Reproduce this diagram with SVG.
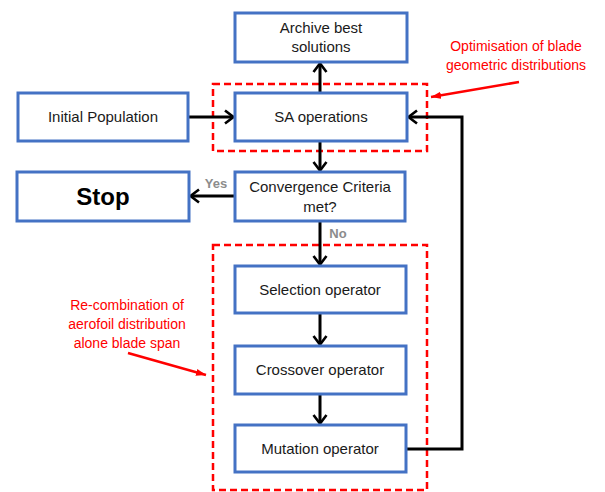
<svg xmlns="http://www.w3.org/2000/svg" width="605" height="492" viewBox="0 0 605 492">
<style>
.box{fill:#fff;stroke:#4472C4;stroke-width:3}
.t{font-family:"Liberation Sans",Arial,sans-serif;font-size:15px;fill:#1a1a1a;text-anchor:middle}
.lab{font-family:"Liberation Sans",Arial,sans-serif;font-size:13px;font-weight:bold;fill:#8c8c8c;text-anchor:middle}
.red{font-family:"Liberation Sans",Arial,sans-serif;font-size:14px;fill:#ff0000;text-anchor:middle}
.dash{fill:none;stroke:#ff0000;stroke-width:2.5;stroke-dasharray:7,4}
.c{fill:none;stroke:#000;stroke-width:3}
.ra{fill:none;stroke:#ff0000;stroke-width:2.5}
</style>
<defs>
<marker id="ah" markerWidth="14" markerHeight="16" refX="10" refY="8" orient="auto" markerUnits="userSpaceOnUse" viewBox="0 0 14 16">
<path d="M2,1.5 L10.5,8 L2,14.5" fill="none" stroke="#000" stroke-width="2.6"/>
</marker>
<marker id="rh" markerWidth="10" markerHeight="8" refX="10" refY="4" orient="auto" markerUnits="userSpaceOnUse" viewBox="0 0 10 8">
<path d="M0,0.5 L10,4 L0,7.5 Z" fill="#ff0000"/>
</marker>
</defs>
<g id="groups">
<rect class="dash" x="213" y="84" width="214" height="67"/>
<rect class="dash" x="213" y="245" width="214" height="245"/>
</g>
<g id="connectors">
<line class="c" x1="320" y1="92" x2="320" y2="64" marker-end="url(#ah)"/>
<line class="c" x1="189" y1="117" x2="233" y2="117" marker-end="url(#ah)"/>
<line class="c" x1="320" y1="142" x2="320" y2="170" marker-end="url(#ah)"/>
<line class="c" x1="234" y1="196" x2="191" y2="196" marker-end="url(#ah)"/>
<line class="c" x1="320" y1="222" x2="320" y2="264" marker-end="url(#ah)"/>
<line class="c" x1="320" y1="314" x2="320" y2="344" marker-end="url(#ah)"/>
<line class="c" x1="320" y1="395" x2="320" y2="423" marker-end="url(#ah)"/>
<polyline class="c" points="407,449 462,449 462,117 409,117" marker-end="url(#ah)"/>
<text class="lab" x="216" y="188">Yes</text>
<text class="lab" x="338" y="238">No</text>
</g>
<g id="archive"><rect class="box" x="235" y="13" width="172" height="49"/>
<text class="t" x="321" y="33">Archive best</text><text class="t" x="321" y="52">solutions</text></g>
<g id="init"><rect class="box" x="18" y="93" width="170" height="48"/>
<text class="t" x="103" y="122">Initial Population</text></g>
<g id="sa"><rect class="box" x="235" y="93" width="172" height="48"/>
<text class="t" x="321" y="122">SA operations</text></g>
<g id="stop"><rect class="box" x="17" y="172" width="172" height="49"/>
<text x="103" y="205" style="font-family:'Liberation Sans',Arial,sans-serif;font-size:24px;font-weight:bold;text-anchor:middle">Stop</text></g>
<g id="conv"><rect class="box" x="235" y="172" width="170" height="49"/>
<text class="t" x="320" y="192">Convergence Criteria</text><text class="t" x="320" y="212">met?</text></g>
<g id="sel"><rect class="box" x="235" y="266" width="171" height="47"/>
<text class="t" x="320" y="295">Selection operator</text></g>
<g id="cross"><rect class="box" x="235" y="346" width="171" height="48"/>
<text class="t" x="320" y="375">Crossover operator</text></g>
<g id="mut"><rect class="box" x="235" y="425" width="171" height="47"/>
<text class="t" x="320" y="454">Mutation operator</text></g>
<g id="ann1"><text class="red" x="516" y="51">Optimisation of blade</text>
<text class="red" x="516" y="70">geometric distributions</text>
<line class="ra" x1="519" y1="82" x2="431" y2="97" marker-end="url(#rh)"/></g>
<g id="ann2"><text class="red" x="127" y="310">Re-combination of</text>
<text class="red" x="127" y="329">aerofoil distribution</text>
<text class="red" x="127" y="348">alone blade span</text>
<line class="ra" x1="128" y1="353" x2="206" y2="375" marker-end="url(#rh)"/></g>
</svg>
